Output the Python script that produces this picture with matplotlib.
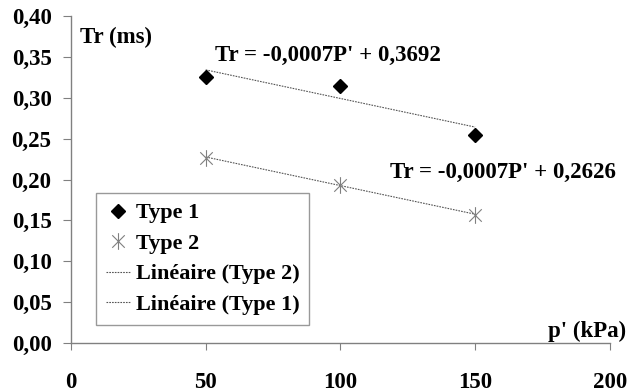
import matplotlib
matplotlib.use("Agg")
import matplotlib.pyplot as plt
from matplotlib.path import Path
from matplotlib.lines import Line2D
import numpy as np

# Measurements: relaxation time Tr (ms) vs effective pressure p' (kPa)
pressure = [50, 100, 150]
tr_type1 = [0.326, 0.314, 0.254]
tr_type2 = [0.226, 0.193, 0.157]

# Linear trend coefficients (slope, intercept) shown on the chart
trend_type1 = (-0.0007, 0.3692)
trend_type2 = (-0.0007, 0.2626)
eq_type1 = "Tr = -0,0007P' + 0,3692"
eq_type2 = "Tr = -0,0007P' + 0,2626"

x_ticks = [0, 50, 100, 150, 200]
y_ticks = [0.0, 0.05, 0.10, 0.15, 0.20, 0.25, 0.30, 0.35, 0.40]

plt.rcParams['font.family'] = ['Liberation Serif', 'DejaVu Serif']
plt.rcParams['font.weight'] = 'bold'
FS = 16.5

fig = plt.figure(figsize=(6.28, 3.92), dpi=100)
ax = fig.add_axes([0.113, 0.125, 0.858, 0.834])

grey = '#808080'

# asterisk marker: vertical bar plus diagonal cross
star = Path([(0, -1), (0, 1), (-0.75, -0.75), (0.75, 0.75), (-0.75, 0.75), (0.75, -0.75)],
            [Path.MOVETO, Path.LINETO, Path.MOVETO, Path.LINETO, Path.MOVETO, Path.LINETO])

xs = np.array([min(pressure), max(pressure)])
ax.plot(xs, trend_type1[0] * xs + trend_type1[1], ls=(0, (1.5, 1)), lw=0.8, color='#555555')
ax.plot(xs, trend_type2[0] * xs + trend_type2[1], ls=(0, (1.5, 1)), lw=0.8, color='#555555')

ax.plot(pressure, tr_type1, ls='none', marker='D', ms=7, color='black')
ax.plot(pressure, tr_type2, ls='none', marker=star, ms=12, mew=0.8,
        color=grey, markerfacecolor='none')

ax.set_xlim(0, 200)
ax.set_ylim(0, 0.40)
ax.set_xticks(x_ticks)
ax.set_yticks(y_ticks)
ax.set_xticklabels([str(v) for v in x_ticks])
ax.set_yticklabels([f"{v:.2f}".replace('.', ',') for v in y_ticks])

for s in ['top', 'right']:
    ax.spines[s].set_visible(False)
for s in ['left', 'bottom']:
    ax.spines[s].set_color(grey)
    ax.spines[s].set_linewidth(1)

ax.tick_params(axis='x', direction='out', length=5, color=grey, pad=16, labelsize=FS)
ax.tick_params(axis='y', direction='out', length=6, color=grey, pad=8, labelsize=FS)
for lab in ax.get_xticklabels() + ax.get_yticklabels():
    lab.set_fontweight('bold')

ax.text(0.017, 0.936, "Tr (ms)", transform=ax.transAxes, fontsize=FS,
        fontweight='bold', va='center', ha='left')
ax.text(1.03, 0.035, "p' (kPa)", transform=ax.transAxes, fontsize=FS,
        fontweight='bold', va='center', ha='right')
ax.text(0.267, 0.881, eq_type1, transform=ax.transAxes, fontsize=FS,
        fontweight='bold', va='center', ha='left')
ax.text(0.592, 0.521, eq_type2, transform=ax.transAxes, fontsize=FS,
        fontweight='bold', va='center', ha='left')

handles = [
    Line2D([], [], ls='none', marker='D', ms=7, color='black'),
    Line2D([], [], ls='none', marker=star, ms=12, mew=0.8, color=grey),
    Line2D([], [], ls=(0, (1.5, 1)), lw=0.8, color='#555555'),
    Line2D([], [], ls=(0, (1.5, 1)), lw=0.8, color='#555555'),
]
labels = ["Type 1", "Type 2", "Linéaire (Type 2)", "Linéaire (Type 1)"]
leg = ax.legend(handles, labels, loc='lower left', bbox_to_anchor=(0.046, 0.055),
                prop={'family': 'Liberation Serif', 'weight': 'bold', 'size': 16},
                frameon=True, fancybox=False, handlelength=1.1, handletextpad=0.25,
                labelspacing=0.45, borderpad=0.45, borderaxespad=0)
leg.get_frame().set_edgecolor(grey)
leg.get_frame().set_linewidth(1)

fig.savefig("out.png", dpi=100)
